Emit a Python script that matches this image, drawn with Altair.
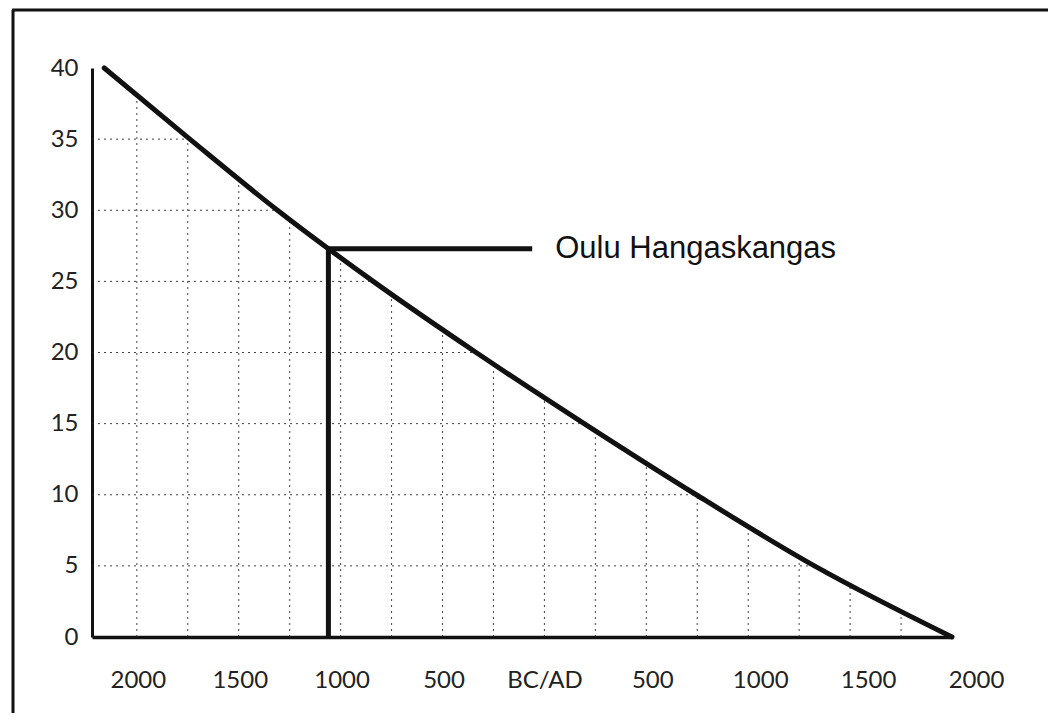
import altair as alt
import pandas as pd

# ---- data ----
curve_year = [-2160, -1740, -1310, -840, -335, 195, 745, 1325, 2000]
curve_value = [40, 35, 30, 25, 20, 15, 10, 5, 0]
y_ticks = [0, 5, 10, 15, 20, 25, 30, 35, 40]
x_ticks = [-2000, -1500, -1000, -500, 0, 500, 1000, 1500, 2000]
grid_years = [-2000, -1750, -1500, -1250, -1000, -750, -500, -250, 0,
              250, 500, 750, 1000, 1250, 1500, 1750]
grid_values = [5, 10, 15, 20, 25, 30, 35]
event_year = -1060
event_value = 27.3
label_end_year = -60
label_text = "Oulu Hangaskangas"

X_MIN, X_MAX = -2220, 2000
Y_MIN, Y_MAX = 0, 40

curve_df = pd.DataFrame({"year": curve_year, "value": curve_value})
vgrid_df = pd.DataFrame({"year": grid_years})
hgrid_df = pd.DataFrame({"value": grid_values})
event_df = pd.DataFrame({"year": [event_year], "end": [label_end_year],
                         "value": [event_value], "label": [label_text]})
frame_df = pd.DataFrame({"k": [0]})

xs = alt.Scale(domain=[X_MIN, X_MAX], nice=False, zero=False)
ys = alt.Scale(domain=[Y_MIN, Y_MAX], nice=False)

x_axis = alt.Axis(
    values=x_ticks,
    labelExpr="datum.value == 0 ? 'BC/AD' : format(abs(datum.value), 'd')",
    title=None, grid=False, ticks=False,
    domainColor="#111", domainWidth=3.5,
    labelFont="Lato", labelFontSize=24, labelColor="#222",
    labelPadding=31, labelFlush=False, labelOverlap=False,
    labelOffset={"condition": {"test": "datum.value < 0", "value": 1},
                 "expr": "datum.value * 0.012"},
)
y_axis = alt.Axis(
    values=y_ticks, title=None, grid=False, ticks=False,
    domainColor="#111", domainWidth=3,
    labelFont="Lato", labelFontSize=24, labelColor="#222", labelPadding=14,
)

grid_style = dict(color="#222", strokeWidth=1, strokeDash=[2, 4], opacity=0.85)

vgrid = alt.Chart(vgrid_df).mark_rule(**grid_style).encode(
    x=alt.X("year:Q", scale=xs, axis=x_axis),
    y=alt.YDatum(Y_MIN, axis=y_axis, scale=ys),
    y2=alt.Y2Datum(Y_MAX),
)
hgrid = alt.Chart(hgrid_df).mark_rule(**grid_style).encode(
    y=alt.Y("value:Q", scale=ys, axis=y_axis),
    x=alt.XDatum(X_MIN, axis=x_axis, scale=xs),
    x2=alt.X2Datum(X_MAX),
)
# white mask above the curve so the grid only shows under it
mask = alt.Chart(curve_df).mark_area(color="white", opacity=1, interpolate="monotone").encode(
    x=alt.X("year:Q", scale=xs, axis=x_axis),
    y=alt.Y("value:Q", scale=ys, axis=y_axis),
    y2=alt.Y2Datum(Y_MAX),
)
curve = alt.Chart(curve_df).mark_line(color="#111", strokeWidth=5, interpolate="monotone",
                                      strokeCap="round").encode(
    x=alt.X("year:Q", scale=xs, axis=x_axis),
    y=alt.Y("value:Q", scale=ys, axis=y_axis),
)
event_v = alt.Chart(event_df).mark_rule(color="#111", strokeWidth=5).encode(
    x=alt.X("year:Q", scale=xs, axis=x_axis),
    y=alt.Y("value:Q", scale=ys, axis=y_axis),
    y2=alt.Y2Datum(Y_MIN),
)
event_h = alt.Chart(event_df).mark_rule(color="#111", strokeWidth=5).encode(
    x=alt.X("year:Q", scale=xs, axis=x_axis),
    x2="end:Q",
    y=alt.Y("value:Q", scale=ys, axis=y_axis),
)
event_t = alt.Chart(event_df).mark_text(
    align="left", baseline="middle", dx=23, font="Liberation Sans",
    fontSize=31, color="#111").encode(
    x=alt.X("end:Q", scale=xs, axis=x_axis),
    y=alt.Y("value:Q", scale=ys, axis=y_axis),
    text="label:N",
)
frame_left = alt.Chart(frame_df).mark_rule(color="#111", strokeWidth=3).encode(
    x=alt.value(-79), y=alt.value(-58), y2=alt.value(700))
frame_top = alt.Chart(frame_df).mark_rule(color="#111", strokeWidth=3).encode(
    x=alt.value(-80), x2=alt.value(1000), y=alt.value(-58))

chart = alt.layer(
    frame_left, frame_top, vgrid, hgrid, mask, curve, event_v, event_h, event_t
).properties(
    width=860, height=569,
    padding={"left": 84, "top": 60, "right": 96, "bottom": 76},
    autosize=alt.AutoSizeParams(type="none"),
    background="white",
).configure_view(stroke=None)

chart.save("out.html", embed_options={"renderer": "svg", "actions": False})
